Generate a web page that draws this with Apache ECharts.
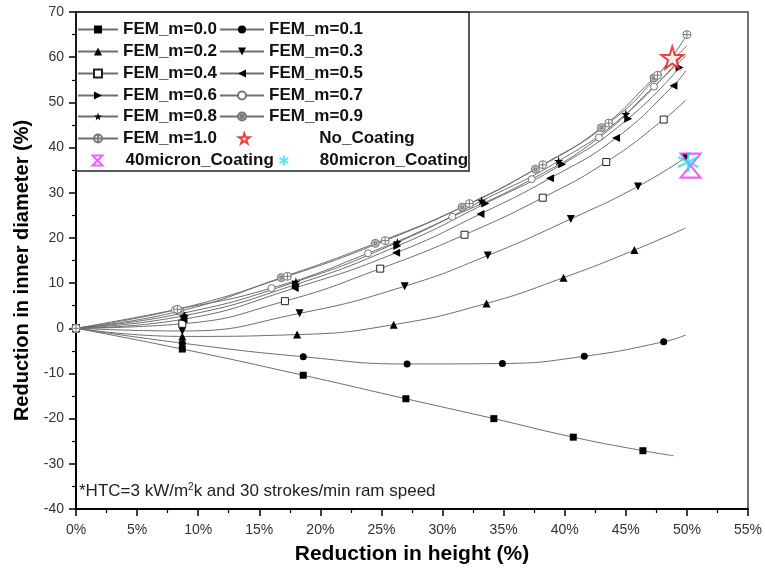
<!DOCTYPE html>
<html>
<head>
<meta charset="utf-8">
<script src="https://cdn.jsdelivr.net/npm/echarts@6/dist/echarts.min.js"></script>
<style>html,body{margin:0;padding:0;background:#fff;}#chart{width:765px;height:574px;}</style>
</head>
<body>
<div id="chart"></div>
<script>
// ---- data ----
const xTicks = [0, 5, 10, 15, 20, 25, 30, 35, 40, 45, 50, 55];
const yTicks = [-40, -30, -20, -10, 0, 10, 20, 30, 40, 50, 60, 70];

const xM00 = [0, 8.7, 18.6, 27.0, 34.2, 40.7, 46.4, 48.9];
const yM00 = [0, -4.6, -10.4, -15.6, -20.0, -24.1, -27.1, -28.2];
const xM01 = [0, 8.7, 18.6, 27.1, 34.9, 41.6, 48.1, 49.9];
const yM01 = [0, -3.3, -6.3, -7.9, -7.8, -6.2, -3.0, -1.5];
const xM02 = [0, 8.7, 18.1, 26.0, 33.6, 39.9, 45.7, 49.9];
const yM02 = [0, -1.8, -1.4, 0.8, 5.5, 11.2, 17.3, 22.2];
const xM03 = [0, 8.7, 18.3, 26.9, 33.7, 40.5, 46.0, 49.9];
const yM03 = [0, -0.6, 3.3, 9.3, 16.1, 24.2, 31.4, 37.8];
const xM04 = [0, 8.7, 17.1, 24.9, 31.8, 38.2, 43.4, 48.1, 49.9];
const yM04 = [0, 1.0, 6.0, 13.2, 20.7, 28.9, 36.8, 46.2, 50.5];
const xM05 = [0, 8.8, 17.9, 26.2, 33.1, 38.8, 44.2, 48.9, 49.9];
const yM05 = [0, 2.0, 8.9, 16.7, 25.3, 33.2, 42.1, 53.7, 57.0];
const xM06 = [0, 8.9, 18.0, 26.3, 33.5, 39.8, 45.2, 49.4];
const yM06 = [0, 2.8, 9.7, 18.2, 27.6, 36.3, 46.4, 57.7];
const xM07 = [0, 8.1, 16.0, 23.9, 30.8, 37.3, 42.8, 47.3, 49.9];
const yM07 = [0, 4.1, 8.9, 16.6, 24.7, 33.0, 42.2, 53.5, 60.3];
const xM08 = [0, 8.7, 18.0, 26.3, 33.2, 39.5, 45.0, 49.5];
const yM08 = [0, 3.3, 10.3, 19.0, 28.2, 37.0, 47.4, 60.0];
const xM09 = [0, 8.5, 16.8, 24.5, 31.6, 37.6, 43.0, 47.3, 50.0];
const yM09 = [0, 3.8, 11.2, 18.8, 26.8, 35.2, 44.4, 55.4, 62.5];
const xM10 = [0, 8.3, 17.3, 25.3, 32.2, 38.2, 43.6, 47.6, 50.0];
const yM10 = [0, 4.2, 11.5, 19.4, 27.6, 36.2, 45.4, 56.0, 65.0];

const xNoCoating = [48.8];
const yNoCoating = [59.9];
const x40micron = [50.3];
const y40micron = [36.0];
const x80micron = [50.1];
const y80micron = [36.8];

const seriesNames = ['FEM_m=0.0','FEM_m=0.1','FEM_m=0.2','FEM_m=0.3','FEM_m=0.4','FEM_m=0.5',
  'FEM_m=0.6','FEM_m=0.7','FEM_m=0.8','FEM_m=0.9','FEM_m=1.0','No_Coating','40micron_Coating','80micron_Coating'];

// ---- styling ----
const FONT = '"Liberation Sans", Arial, sans-serif';
const LINE = '#6e6e6e';
const STAR = 'path://M50,2 L61.2,36.2 L97.6,36.2 L68.2,57.4 L79.4,91.6 L50,70.4 L20.6,91.6 L31.8,57.4 L2.4,36.2 L38.8,36.2 Z';
const CPLUS = 'path://M0,10 A10,10 0 1,1 20,10 A10,10 0 1,1 0,10 Z M10,1 L10,19 M1,10 L19,10';
const CDOT = 'path://M0,10 A10,10 0 1,1 20,10 A10,10 0 1,1 0,10 Z M7,7 L13,7 L13,13 L7,13 Z';
const HOURX = 'path://M0,0 L20,0 L0,20 L20,20 Z';
const ASTER = 'path://M10,0 L10,20 M1.3,5 L18.7,15 M1.3,15 L18.7,5';

function pairs(xs, ys, endMarker) {
  return xs.map((x, i) => {
    const it = { value: [x, ys[i]] };
    if (!endMarker && i === xs.length - 1) it.symbol = 'none';
    return it;
  });
}
function lineS(name, xs, ys, endMarker, symbol, size, itemStyle, rotate) {
  return {
    type: 'line', name, data: pairs(xs, ys, endMarker),
    smooth: 0.5, showAllSymbol: true,
    symbol, symbolSize: size, symbolRotate: rotate || 0,
    lineStyle: { color: LINE, width: 1 },
    itemStyle, emphasis: { disabled: true }
  };
}
const blk = { color: '#000', borderWidth: 0 };

const series = [
  lineS(seriesNames[0], xM00, yM00, false, 'rect', 7, blk),
  lineS(seriesNames[1], xM01, yM01, false, 'circle', 7, blk),
  lineS(seriesNames[2], xM02, yM02, false, 'triangle', 8, blk),
  lineS(seriesNames[3], xM03, yM03, true, 'triangle', 8, blk, 180),
  lineS(seriesNames[4], xM04, yM04, false, 'rect', 7, { color: '#fff', borderColor: '#222', borderWidth: 1 }),
  lineS(seriesNames[5], xM05, yM05, false, 'triangle', 8, blk, 90),
  lineS(seriesNames[6], xM06, yM06, true, 'triangle', 8, blk, -90),
  lineS(seriesNames[7], xM07, yM07, false, 'circle', 7, { color: '#fff', borderColor: '#777', borderWidth: 1 }),
  lineS(seriesNames[8], xM08, yM08, false, STAR, 9, blk),
  lineS(seriesNames[9], xM09, yM09, false, CDOT, 8, { color: '#bbb', borderColor: '#777', borderWidth: 1 }),
  lineS(seriesNames[10], xM10, yM10, true, CPLUS, 8, { color: '#fff', borderColor: '#777', borderWidth: 1 }),
  { type: 'scatter', name: seriesNames[11], data: xNoCoating.map((x, i) => [x, yNoCoating[i]]),
    symbol: STAR, symbolSize: 22, itemStyle: { color: '#fff4f4', borderColor: '#e8141c', borderWidth: 2 }, z: 5 },
  { type: 'scatter', name: seriesNames[12], data: x40micron.map((x, i) => [x, y40micron[i]]),
    symbol: HOURX, symbolSize: [20, 24], itemStyle: { color: 'none', borderColor: '#e040e8', borderWidth: 2 }, z: 5 },
  { type: 'scatter', name: seriesNames[13], data: x80micron.map((x, i) => [x, y80micron[i]]),
    symbol: ASTER, symbolSize: 20, itemStyle: { color: 'none', borderColor: '#28dcf0', borderWidth: 2.5 }, z: 6 }
];

function leg(name, left, cy, w) {
  return {
    data: [name], left, top: cy - 5, itemWidth: w, itemHeight: 10,
    padding: 0, itemGap: 0, selectedMode: false, z: 10,
    textStyle: { fontSize: 17, fontWeight: 'bold', color: '#111', fontFamily: FONT }
  };
}
const rowY = [26, 48, 70, 92, 113, 135, 157];
const legends = [];
for (let r = 0; r < 6; r++) {
  legends.push(leg(seriesNames[2 * r], 77, rowY[r], 40));
  if (r < 5) legends.push(leg(seriesNames[2 * r + 1], 219, rowY[r], 44));
}
// scatter icons: layout box starts at the drawn symbol, so left = symbol centre - 5
legends.push(leg(seriesNames[11], 238, rowY[5], 140));
legends.push(leg(seriesNames[12], 90, rowY[6], 46));
legends.push(leg(seriesNames[13], 277, rowY[6], 62));

const chart = echarts.init(document.getElementById('chart'), null, { renderer: 'canvas' });
chart.setOption({
  animation: false,
  backgroundColor: '#fff',
  textStyle: { fontFamily: FONT },
  grid: { left: 76, right: 15, top: 12, bottom: 65, show: true, borderColor: '#444', borderWidth: 1.5 },
  legend: legends,
  xAxis: {
    type: 'value', min: xTicks[0], max: xTicks[xTicks.length - 1], interval: 5,
    axisLine: { show: true, onZero: false, lineStyle: { color: '#000', width: 2 } },
    axisTick: { show: true, length: 7, lineStyle: { color: '#000', width: 1.5 } },
    minorTick: { show: true, splitNumber: 2, length: 4, lineStyle: { color: '#000', width: 1.2 } },
    splitLine: { show: false },
    axisLabel: { formatter: '{value}%', fontSize: 14, color: '#333', margin: 14, fontFamily: FONT },
    name: 'Reduction in height (%)', nameLocation: 'middle', nameGap: 35,
    nameTextStyle: { fontSize: 21, fontWeight: 'bold', color: '#000', fontFamily: FONT }
  },
  yAxis: {
    type: 'value', min: yTicks[0], max: yTicks[yTicks.length - 1], interval: 10,
    axisLine: { show: true, onZero: false, lineStyle: { color: '#000', width: 2 } },
    axisTick: { show: true, length: 7, lineStyle: { color: '#000', width: 1.5 } },
    minorTick: { show: true, splitNumber: 2, length: 4, lineStyle: { color: '#000', width: 1.2 } },
    splitLine: { show: false },
    axisLabel: { fontSize: 14, color: '#333', margin: 12, fontFamily: FONT },
    name: 'Reduction in inner diameter (%)', nameLocation: 'middle', nameGap: 44, nameRotate: 90,
    nameTextStyle: { fontSize: 20, fontWeight: 'bold', color: '#000', fontFamily: FONT, padding: [0, 20, 0, 0] }
  },
  graphic: [
    { type: 'rect', shape: { x: 76, y: 12, width: 393, height: 159 }, style: { fill: 'none', stroke: '#222', lineWidth: 1.5 }, z: 1 },
    { type: 'text', x: 79, y: 491, z: 10,
      style: { text: '*HTC=3 kW/m{s|2}k and 30 strokes/min ram speed', fontSize: 17, fontFamily: FONT, fill: '#222',
        verticalAlign: 'middle', rich: { s: { fontSize: 10, verticalAlign: 'top', fill: '#222', fontFamily: FONT } } } }
  ],
  series
});
</script>
</body>
</html>
